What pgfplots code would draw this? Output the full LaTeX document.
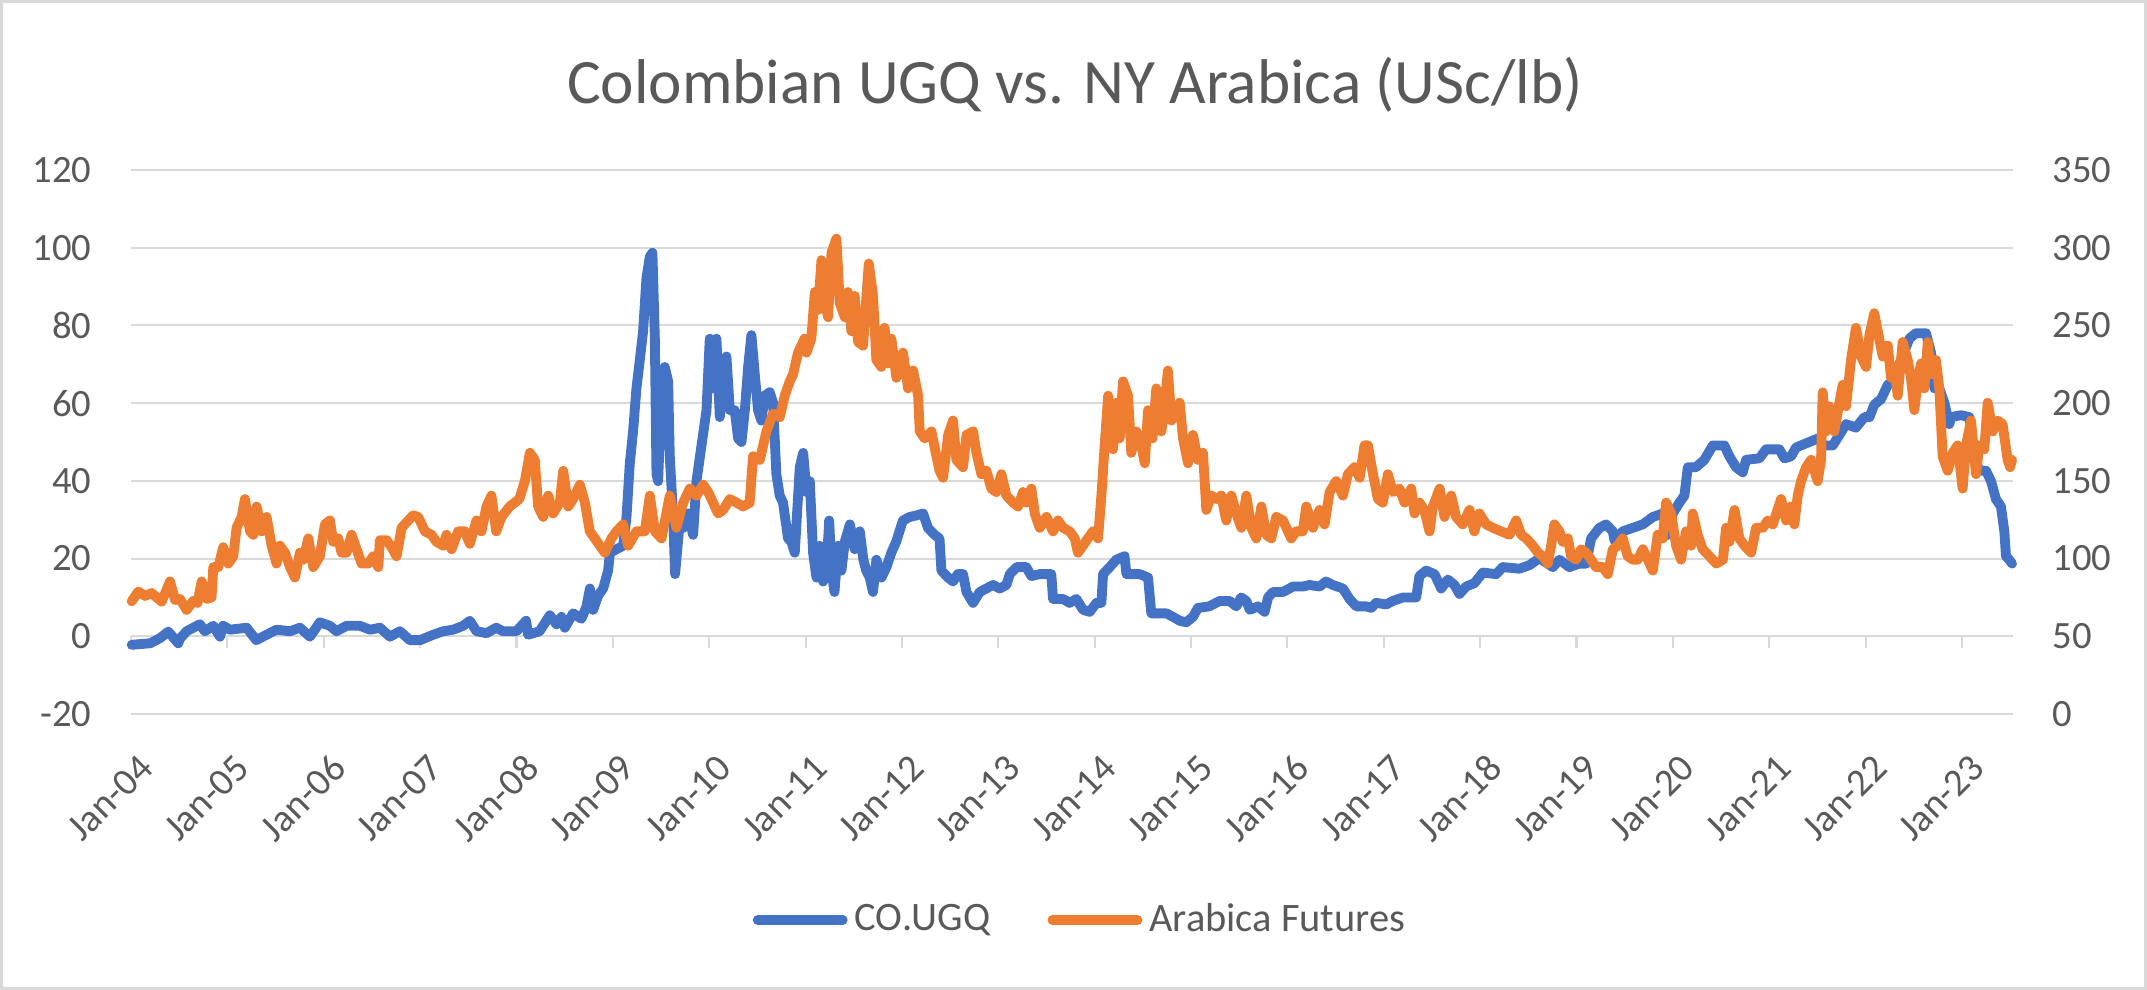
\documentclass[border=0pt]{standalone}
\usepackage{pgfplots}
\usepackage{pgfplotstable}
\pgfplotsset{compat=1.18}
\usepackage{fontspec}
\setmainfont{Carlito}
\definecolor{cblue}{HTML}{4472C4}
\definecolor{corange}{HTML}{ED7D31}
\definecolor{cgrid}{HTML}{D9D9D9}
\definecolor{ctext}{HTML}{595959}

\pgfplotstableread{
x y
2004.007 -2.2
2004.1 -2.0
2004.2 -1.8
2004.3 -0.5
2004.387 1.2
2004.49 -1.8
2004.508 -0.6
2004.577 1.3
2004.646 2.2
2004.715 3.1
2004.767 1.3
2004.854 2.7
2004.923 -0.1
2004.957 2.7
2005.026 1.7
2005.2 2.2
2005.3 -1.0
2005.407 0.4
2005.51 1.7
2005.65 1.3
2005.753 2.2
2005.857 -0.1
2005.96 3.6
2006.064 2.7
2006.133 1.3
2006.237 2.7
2006.375 2.7
2006.48 1.7
2006.583 2.2
2006.687 -0.1
2006.79 1.3
2006.894 -1.0
2007.0 -1.0
2007.136 0.4
2007.24 1.3
2007.343 1.7
2007.447 2.7
2007.516 4.0
2007.585 1.3
2007.689 0.8
2007.79 2.2
2007.862 1.3
2008.0 1.3
2008.1 4.0
2008.12 0.4
2008.24 1.3
2008.346 5.4
2008.415 3.1
2008.467 5.0
2008.502 2.2
2008.588 5.9
2008.675 4.5
2008.727 7.7
2008.762 12.3
2008.796 6.8
2008.848 10.5
2008.9 12.3
2008.951 16.9
2008.97 21.5
2009.038 22.4
2009.107 23.3
2009.142 30.7
2009.176 44.5
2009.21 52.7
2009.245 63.8
2009.28 71.1
2009.314 78.5
2009.349 92.2
2009.384 97.7
2009.411 98.7
2009.436 76.6
2009.453 41.7
2009.47 39.9
2009.505 62.8
2009.539 69.3
2009.574 65.6
2009.591 46.3
2009.626 30.7
2009.646 16.0
2009.695 29.7
2009.73 27.9
2009.781 31.6
2009.833 26.1
2009.868 39.9
2009.92 49.1
2009.972 58.2
2010.006 76.6
2010.04 63.8
2010.075 76.6
2010.11 56.4
2010.145 67.4
2010.179 72.0
2010.214 58.2
2010.265 58.2
2010.3 50.9
2010.335 50.0
2010.37 58.2
2010.404 69.3
2010.438 77.5
2010.473 67.4
2010.507 58.2
2010.542 55.5
2010.576 61.9
2010.628 62.8
2010.663 60.1
2010.697 41.7
2010.732 36.2
2010.766 34.4
2010.818 25.2
2010.853 24.3
2010.888 21.5
2010.94 43.5
2010.975 47.2
2011.01 37.1
2011.044 39.9
2011.078 21.5
2011.113 15.1
2011.147 23.3
2011.182 14.1
2011.217 16.9
2011.245 29.8
2011.27 16.9
2011.3 11.4
2011.338 23.3
2011.372 16.9
2011.407 24.3
2011.46 28.8
2011.51 22.4
2011.563 27.0
2011.6 19.7
2011.63 16.9
2011.666 15.1
2011.7 11.4
2011.735 19.7
2011.787 15.1
2011.84 17.8
2011.89 21.5
2011.94 24.3
2012.01 29.8
2012.08 30.7
2012.15 31.1
2012.22 31.6
2012.27 27.9
2012.34 26.1
2012.39 25.2
2012.41 16.9
2012.48 15.1
2012.53 14.1
2012.58 16.0
2012.634 16.0
2012.67 11.4
2012.738 8.6
2012.808 11.4
2012.876 12.3
2012.946 13.2
2013.015 12.3
2013.084 13.2
2013.12 16.0
2013.19 17.8
2013.29 17.8
2013.343 15.5
2013.43 16.0
2013.55 16.0
2013.568 9.6
2013.672 9.6
2013.74 8.6
2013.81 9.6
2013.88 6.8
2013.948 6.3
2014.02 8.6
2014.07 8.6
2014.087 16.0
2014.156 17.8
2014.225 19.7
2014.31 20.6
2014.33 16.0
2014.467 16.0
2014.554 15.1
2014.588 5.9
2014.744 5.9
2014.813 5.0
2014.882 4.0
2014.951 3.6
2015.02 5.0
2015.072 7.3
2015.19 7.7
2015.297 9.1
2015.4 9.1
2015.47 7.7
2015.52 10.0
2015.574 9.1
2015.61 6.8
2015.695 7.7
2015.764 6.3
2015.8 10.0
2015.85 11.4
2015.954 11.4
2016.058 12.8
2016.16 12.8
2016.23 13.2
2016.334 12.8
2016.4 14.1
2016.472 13.2
2016.576 12.3
2016.645 9.6
2016.715 7.7
2016.818 7.7
2016.87 7.3
2016.92 8.6
2017.026 8.2
2017.095 9.1
2017.2 10.0
2017.337 10.0
2017.37 15.5
2017.44 16.9
2017.527 16.0
2017.596 12.3
2017.665 14.6
2017.734 13.2
2017.786 10.9
2017.855 12.8
2017.942 13.7
2018.028 16.4
2018.166 16.0
2018.235 17.8
2018.408 17.4
2018.512 18.3
2018.616 20.1
2018.754 17.8
2018.823 19.7
2018.927 17.8
2019.03 18.7
2019.1 18.7
2019.152 25.2
2019.238 27.9
2019.307 28.8
2019.377 27.0
2019.394 24.7
2019.48 27.0
2019.584 27.9
2019.688 28.8
2019.792 30.7
2019.895 31.6
2019.947 26.1
2019.999 31.6
2020.068 34.4
2020.12 36.2
2020.155 43.5
2020.24 43.5
2020.327 45.4
2020.414 49.1
2020.535 49.1
2020.587 46.3
2020.656 43.5
2020.725 42.2
2020.76 45.4
2020.898 45.8
2020.967 48.1
2021.106 48.1
2021.157 45.8
2021.227 46.3
2021.279 48.6
2021.417 50.0
2021.503 50.9
2021.572 49.1
2021.659 49.1
2021.728 51.8
2021.797 54.6
2021.9 53.7
2021.987 56.4
2022.04 56.4
2022.09 59.6
2022.16 61.0
2022.23 64.7
2022.282 65.6
2022.368 71.1
2022.454 76.6
2022.523 78.0
2022.627 78.0
2022.679 73.0
2022.714 63.8
2022.765 63.8
2022.817 60.1
2022.869 54.6
2022.886 56.4
2022.99 56.9
2023.077 56.4
2023.128 46.3
2023.18 42.6
2023.25 42.6
2023.302 39.9
2023.353 35.3
2023.405 33.4
2023.44 27.0
2023.457 20.6
2023.49 19.7
2023.52 18.7
}\ugq

\pgfplotstableread{
x y
2004.007 72.5
2004.076 78.8
2004.145 76.0
2004.214 77.8
2004.318 72.3
2004.405 85.3
2004.457 73.3
2004.508 74.0
2004.577 67.0
2004.646 72.8
2004.69 71.5
2004.733 85.3
2004.785 74.0
2004.836 75.0
2004.854 94.5
2004.906 94.5
2004.957 107.3
2005.009 96.8
2005.061 101.5
2005.096 119.8
2005.148 126.8
2005.182 138.3
2005.234 117.5
2005.269 115.3
2005.303 133.5
2005.355 117.5
2005.407 126.8
2005.459 108.3
2005.51 96.8
2005.545 108.3
2005.597 103.8
2005.65 94.5
2005.701 87.8
2005.753 103.8
2005.788 99.3
2005.84 113.0
2005.891 94.5
2005.96 101.5
2006.012 122.0
2006.064 124.5
2006.099 110.8
2006.15 113.0
2006.185 103.8
2006.237 103.8
2006.289 115.3
2006.341 106.0
2006.393 96.8
2006.462 96.8
2006.514 101.5
2006.566 94.5
2006.583 111.8
2006.652 111.8
2006.704 107.3
2006.756 101.5
2006.808 119.8
2006.877 124.5
2006.929 127.8
2006.98 126.8
2007.05 117.5
2007.118 115.3
2007.17 110.8
2007.24 108.3
2007.274 115.3
2007.326 106.0
2007.395 117.5
2007.464 117.5
2007.516 109.5
2007.585 124.5
2007.637 117.5
2007.689 133.5
2007.74 140.5
2007.79 117.5
2007.845 126.8
2007.93 133.5
2008.03 138.3
2008.087 149.8
2008.139 168.0
2008.19 163.5
2008.225 133.5
2008.277 126.8
2008.329 140.5
2008.38 129.0
2008.45 136.0
2008.485 156.5
2008.537 133.5
2008.588 138.3
2008.658 147.5
2008.71 136.0
2008.761 117.5
2008.813 113.0
2008.865 108.3
2008.917 103.8
2008.986 113.0
2009.038 117.5
2009.107 122.0
2009.159 108.3
2009.245 117.5
2009.332 117.5
2009.384 140.5
2009.436 117.5
2009.505 113.0
2009.591 140.5
2009.66 119.8
2009.73 136.0
2009.799 145.0
2009.868 140.5
2009.937 147.5
2009.989 142.8
2010.04 136.0
2010.092 129.0
2010.145 131.3
2010.214 138.3
2010.283 136.0
2010.352 133.5
2010.42 136.0
2010.455 165.8
2010.525 163.5
2010.594 181.8
2010.663 193.3
2010.732 191.0
2010.784 204.8
2010.836 214.0
2010.87 218.5
2010.922 232.5
2010.99 241.5
2011.009 232.5
2011.06 241.5
2011.096 271.5
2011.13 260.0
2011.165 292.0
2011.2 264.5
2011.234 255.3
2011.269 296.8
2011.32 305.8
2011.355 264.5
2011.407 255.3
2011.44 271.5
2011.476 246.3
2011.51 269.0
2011.545 239.3
2011.597 237.0
2011.632 269.0
2011.656 289.8
2011.7 269.0
2011.735 227.8
2011.787 223.3
2011.82 248.5
2011.856 225.5
2011.89 241.5
2011.943 216.3
2012.01 232.5
2012.064 209.5
2012.116 221.0
2012.168 204.8
2012.185 181.8
2012.237 177.3
2012.306 181.8
2012.358 165.8
2012.39 156.5
2012.427 152.0
2012.48 179.5
2012.53 188.8
2012.565 163.5
2012.634 158.8
2012.67 179.5
2012.738 181.8
2012.773 168.0
2012.825 154.3
2012.876 156.5
2012.928 145.0
2012.98 142.8
2013.032 154.3
2013.084 140.5
2013.153 136.0
2013.205 133.5
2013.257 142.8
2013.29 136.0
2013.343 145.0
2013.378 129.0
2013.43 119.8
2013.5 126.8
2013.568 117.5
2013.62 124.5
2013.672 119.8
2013.74 117.5
2013.793 113.0
2013.827 103.8
2013.879 108.3
2013.93 113.0
2013.983 117.5
2014.035 113.0
2014.07 140.5
2014.104 172.8
2014.14 204.8
2014.19 170.3
2014.225 200.3
2014.26 177.3
2014.294 214.0
2014.346 204.8
2014.38 168.0
2014.433 181.8
2014.485 172.8
2014.52 161.3
2014.554 195.5
2014.6 177.3
2014.64 209.5
2014.692 181.8
2014.726 198.0
2014.76 221.0
2014.796 188.8
2014.848 195.5
2014.882 200.3
2014.917 177.3
2014.969 161.3
2015.02 179.5
2015.072 163.5
2015.124 168.0
2015.159 131.3
2015.21 140.5
2015.262 138.3
2015.314 140.5
2015.366 124.5
2015.418 140.5
2015.47 129.0
2015.522 119.8
2015.574 140.5
2015.626 119.8
2015.677 113.0
2015.73 133.5
2015.781 115.3
2015.833 113.0
2015.885 126.8
2015.954 124.5
2016.04 113.0
2016.092 117.5
2016.16 117.5
2016.196 133.5
2016.265 119.8
2016.334 131.3
2016.386 122.0
2016.438 142.8
2016.507 149.8
2016.576 140.5
2016.628 154.3
2016.697 158.8
2016.75 152.0
2016.8 172.8
2016.836 172.8
2016.888 154.3
2016.94 138.3
2016.99 136.0
2017.043 154.3
2017.095 142.8
2017.164 145.0
2017.216 136.0
2017.285 145.0
2017.32 129.0
2017.371 136.0
2017.42 131.3
2017.475 117.5
2017.51 133.5
2017.58 145.0
2017.63 126.8
2017.7 140.5
2017.75 126.8
2017.82 122.0
2017.89 131.3
2017.94 117.5
2017.993 129.0
2018.063 122.0
2018.132 119.8
2018.218 117.5
2018.305 115.3
2018.374 124.5
2018.426 115.3
2018.478 113.0
2018.547 108.3
2018.6 103.8
2018.65 101.5
2018.702 96.8
2018.737 108.3
2018.77 122.0
2018.823 117.5
2018.858 110.8
2018.91 113.0
2018.944 101.5
2018.996 99.3
2019.048 106.0
2019.1 103.8
2019.152 99.3
2019.204 94.5
2019.273 94.5
2019.325 90.0
2019.377 106.0
2019.428 108.3
2019.48 113.0
2019.532 101.5
2019.584 99.3
2019.636 99.3
2019.688 106.0
2019.74 99.3
2019.792 92.3
2019.843 115.3
2019.895 113.0
2019.93 136.0
2019.982 129.0
2020.034 108.3
2020.085 99.3
2020.137 117.5
2020.19 108.3
2020.206 129.0
2020.258 115.3
2020.31 106.0
2020.38 101.5
2020.45 96.8
2020.52 99.3
2020.552 119.8
2020.587 110.8
2020.64 131.3
2020.69 113.0
2020.743 108.3
2020.812 103.8
2020.864 119.8
2020.933 119.8
2020.985 124.5
2021.037 122.0
2021.123 138.3
2021.175 124.5
2021.227 133.5
2021.261 122.0
2021.296 140.5
2021.33 149.8
2021.383 158.8
2021.434 163.5
2021.503 149.8
2021.538 163.5
2021.555 207.0
2021.59 181.8
2021.624 198.0
2021.676 181.8
2021.728 200.3
2021.763 211.8
2021.797 198.0
2021.849 227.8
2021.9 248.5
2021.953 230.0
2022.005 223.3
2022.04 243.8
2022.09 257.8
2022.126 246.3
2022.178 230.0
2022.23 237.0
2022.264 216.3
2022.299 223.3
2022.333 204.8
2022.385 239.3
2022.437 227.8
2022.471 216.3
2022.506 195.5
2022.54 214.0
2022.575 225.5
2022.61 209.5
2022.645 239.3
2022.679 218.5
2022.73 227.8
2022.765 209.5
2022.8 165.8
2022.852 156.5
2022.904 168.0
2022.955 172.8
2023.007 145.0
2023.042 172.8
2023.094 188.8
2023.146 154.3
2023.18 172.8
2023.232 170.3
2023.267 200.3
2023.319 181.8
2023.37 188.8
2023.422 186.5
2023.474 163.5
2023.5 158.8
2023.52 163.5
}\arabica

\begin{document}
\begin{tikzpicture}
\path[use as bounding box] (0mm,0mm) rectangle (214.7mm,99mm);
\draw[cgrid, line width=0.6pt] (0.15mm,0.15mm) rectangle (214.55mm,98.85mm);
\node[text=ctext, font=\fontsize{18}{22}\selectfont] at (107.5mm,90.5mm) {Colombian UGQ vs. NY Arabica (USc/lb)};

\begin{axis}[
  at={(13.1mm,27.6mm)}, anchor=south west,
  scale only axis, width=188.2mm, height=54.4mm,
  xmin=0, xmax=19.53, ymin=-20, ymax=120,
  ytick={-20,0,20,40,60,80,100,120},
  yticklabels={-20,0,20,40,60,80,100,120},
  xtick={0,1,...,19},
  xticklabels={Jan-04,Jan-05,Jan-06,Jan-07,Jan-08,Jan-09,Jan-10,Jan-11,Jan-12,Jan-13,Jan-14,Jan-15,Jan-16,Jan-17,Jan-18,Jan-19,Jan-20,Jan-21,Jan-22,Jan-23},
  axis line style={draw=none},
  major tick length=0pt,
  ymajorgrids, grid style={cgrid, line width=0.6pt},
  tick label style={font=\fontsize{11}{13}\selectfont, text=ctext},
  yticklabel style={xshift=-2.7mm},
  xticklabel style={xshift=2.4mm, yshift=-3.9mm, rotate=45, anchor=east},
  legend columns=2,
  legend style={at={(0.5056,-0.379)}, anchor=center, draw=none, fill=none,
    font=\fontsize{11.5}{13}\selectfont, text=ctext,
    /tikz/every even column/.append style={column sep=5mm}},
  legend image code/.code={\draw[#1] (0mm,0mm) -- (8.5mm,0mm);},
  clip=false,
]
\pgfplotsinvokeforeach{0,1,...,19}{
  \draw[cgrid, line width=0.6pt] (axis cs:#1,0) -- ([yshift=-1.15mm]axis cs:#1,0);
}
\addplot[cblue, line width=2.8pt, line join=round, line cap=round] table[x expr=\thisrow{x}-2004, y=y] {\ugq};
\addlegendentry{CO.UGQ}
\addlegendimage{corange, line width=2.8pt, line cap=round}
\addlegendentry{Arabica Futures}
\end{axis}

\begin{axis}[
  at={(13.1mm,27.6mm)}, anchor=south west,
  scale only axis, width=188.2mm, height=54.4mm,
  xmin=0, xmax=19.53, ymin=0, ymax=350,
  axis x line=none, axis y line*=right,
  axis line style={draw=none},
  major tick length=0pt,
  ytick={0,50,100,150,200,250,300,350},
  yticklabels={0,50,100,150,200,250,300,350},
  tick label style={font=\fontsize{11}{13}\selectfont, text=ctext},
  yticklabel style={xshift=2.7mm},
  clip=false,
]
\addplot[corange, line width=2.8pt, line join=round, line cap=round] table[x expr=\thisrow{x}-2004, y=y] {\arabica};
\end{axis}
\end{tikzpicture}
\end{document}
